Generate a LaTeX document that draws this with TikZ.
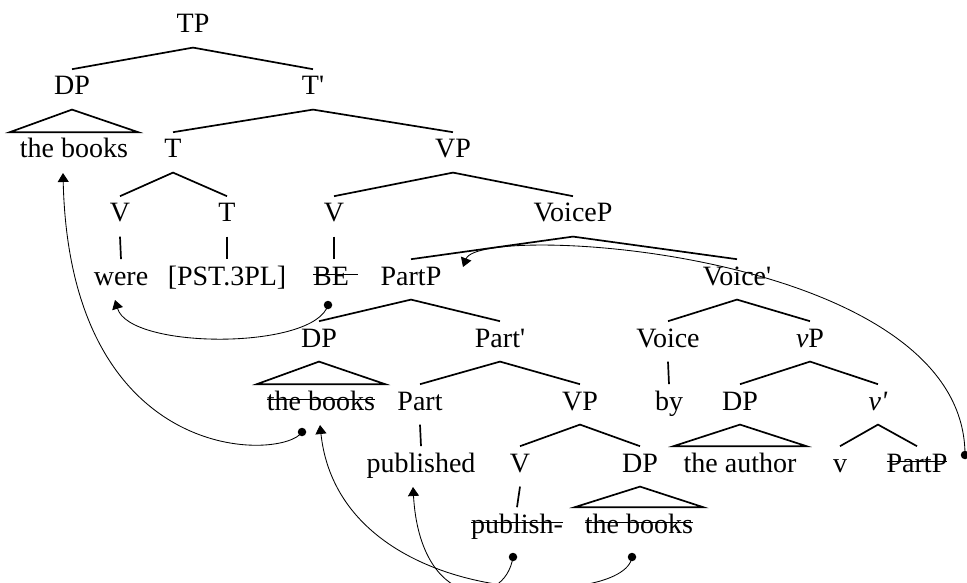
\documentclass[tikz,border=0pt]{standalone}
\usepackage{fontspec}
\setmainfont{Liberation Serif}
\usetikzlibrary{arrows.meta,calc}
\newcommand{\strk}[2][0pt]{\setbox0\hbox{#2}\rlap{\rule[0.36em]{\dimexpr\wd0+#1\relax}{1.3pt}}\box0}
\begin{document}
\begin{tikzpicture}[x=1pt,y=-1pt,
  every node/.style={font=\fontsize{28}{32}\selectfont, anchor=base, inner xsep=2pt, inner ysep=6pt, text height=19.6pt, text depth=8.4pt},
  leaf/.style={inner xsep=10pt},
  dot/.style={circle, fill=black, inner sep=0pt, minimum size=8.5pt, anchor=center, text height=0pt, text depth=0pt},
  branch/.style={line width=1.7pt},
  move/.style={line width=0.85pt, -{Triangle[width=11pt,length=9pt]}},
]
\useasboundingbox (0,0) rectangle (967,583);
% nodes
\node (TP) at (193,33) {TP};
\node (DPa) at (72,95) {DP};
\node (Tb) at (313,95) {T\textquotesingle};
\node[leaf] (bk1) at (74,158) {the books};
\node (Ta) at (173,158) {T};
\node (VPa) at (453,158) {VP};
\node (Va) at (120,222) {V};
\node (Tc) at (227,222) {T};
\node (Vb) at (334,222) {V};
\node (VoP) at (573,222) {VoiceP};
\node (were) at (121,285) {were};
\node (pst) at (227,285) {[PST.3PL]};
\node (BE) at (331,285) {\strk[9pt]{BE}};
\node (PaP) at (411,285) {PartP};
\node (Vob) at (737,285) {Voice\textquotesingle};
\node (DPb) at (319,347) {DP};
\node (Pab) at (500,347) {Part\textquotesingle};
\node (Vo) at (668,347) {Voice};
\node (vP) at (810,347) {\textit{v}P};
\node[leaf] (bk2) at (321,410) {\strk{the books}};
\node (Pa) at (420,410) {Part};
\node (VPb) at (580,410) {VP};
\node (by) at (669,410) {by};
\node (DPc) at (740,410) {DP};
\node (vb) at (878,410) {\textit{v\textquotesingle}};
\node (pub) at (421,472) {published};
\node (Vc) at (520,472) {V};
\node (DPd) at (640,472) {DP};
\node[leaf] (auth) at (740,472) {the author};
\node (v) at (840,472) {v};
\node (PaP2) at (917,472) {\strk{PartP}};
\node (pubh) at (517,533) {\strk{publish-}};
\node[leaf] (bk3) at (639,533) {\strk{the books}};
% branches
\draw[branch] (DPa.north) -- (TP.south) -- (Tb.north);
\draw[branch] (DPa.south) -- (bk1.north west) -- (bk1.north east) -- cycle;
\draw[branch] (Ta.north) -- (Tb.south) -- (VPa.north);
\draw[branch] (Va.north) -- (Ta.south) -- (Tc.north);
\draw[branch] (Vb.north) -- (VPa.south) -- (VoP.north);
\draw[branch] (Va.south) -- (were.north);
\draw[branch] (Tc.south) -- (pst.north);
\draw[branch] (Vb.south) -- (Vb.south |- BE.north);
\draw[branch] (PaP.north) -- (VoP.south) -- (Vob.north);
\draw[branch] (DPb.north) -- (PaP.south) -- (Pab.north);
\draw[branch] (Vo.north) -- (Vob.south) -- (vP.north);
\draw[branch] (DPb.south) -- (bk2.north west) -- (bk2.north east) -- cycle;
\draw[branch] (Pa.north) -- (Pab.south) -- (VPb.north);
\draw[branch] (Vo.south) -- (by.north);
\draw[branch] (DPc.north) -- (vP.south) -- (vb.north);
\draw[branch] (Pa.south) -- (pub.north);
\draw[branch] (Vc.north) -- (VPb.south) -- (DPd.north);
\draw[branch] (DPc.south) -- (auth.north west) -- (auth.north east) -- cycle;
\draw[branch] (v.north) -- (vb.south) -- (PaP2.north);
\draw[branch] (Vc.south) -- (pubh.north);
\draw[branch] (DPd.south) -- (bk3.north west) -- (bk3.north east) -- cycle;
% movement dots and arrow targets
\node[dot] (d1) at (965,455) {};
\node[dot] (d2) at (328,305) {};
\node[dot] (d3) at (302,432) {};
\node[dot] (d4) at (513,557) {};
\node[dot] (d5) at (632,557) {};
\coordinate (a1) at (463,267);
\coordinate (a2) at (115,300);
\coordinate (a3) at (63,173);
\coordinate (a4) at (320,425);
\coordinate (a5) at (413,487);
\draw[move] (d1.center) .. controls (965,250) and (480,222) .. (a1);
\draw[move] (d2.center) .. controls (315,350) and (130,350) .. (a2);
\draw[move] (d3.center) .. controls (285,460) and (70,470) .. (a3);
\draw[move] (d4.center) .. controls (505,610) and (420,610) .. (a5);
\draw[move] (d5.center) .. controls (625,610) and (340,610) .. (a4);
\end{tikzpicture}
\end{document}
